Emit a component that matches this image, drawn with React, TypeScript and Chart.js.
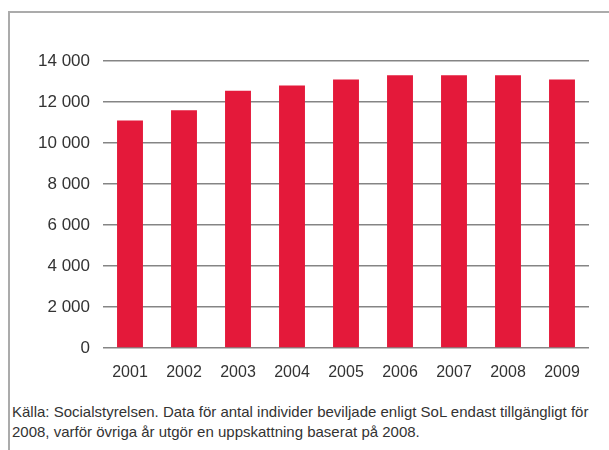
import React, { useEffect, useRef } from "react";
import { Chart, registerables } from "chart.js";

Chart.register(...registerables);

const years = ["2001", "2002", "2003", "2004", "2005", "2006", "2007", "2008", "2009"];
const values = [11100, 11600, 12550, 12800, 13100, 13300, 13300, 13300, 13100];
const yMax = 14000;
const yStep = 2000;
const footnoteLines = [
  "Källa: Socialstyrelsen. Data för antal individer beviljade enligt SoL endast tillgängligt för",
  "2008, varför övriga år utgör en uppskattning baserat på 2008.",
];

const FONT = "'Liberation Sans', Arial, Helvetica, sans-serif";

export default function App() {
  const ref = useRef<HTMLCanvasElement | null>(null);

  useEffect(() => {
    if (!ref.current) return;
    const chart = new Chart(ref.current, {
      type: "bar",
      data: {
        labels: years,
        datasets: [
          {
            data: values,
            backgroundColor: "#E4193A",
            borderWidth: 0,
            categoryPercentage: 1,
            barPercentage: 0.48,
          },
        ],
      },
      options: {
        animation: false,
        responsive: false,
        maintainAspectRatio: false,
        layout: { padding: { top: 61, right: 20, left: 0, bottom: 0 } },
        plugins: { legend: { display: false }, tooltip: { enabled: false } },
        scales: {
          x: {
            grid: { display: false },
            border: { display: false },
            ticks: {
              color: "#333",
              font: { family: FONT, size: 16 },
              padding: 7,
              maxRotation: 0,
            },
            afterFit: (s: any) => {
              s.height = 42;
            },
          },
          y: {
            min: 0,
            max: yMax,
            border: { display: false },
            grid: { color: "#858585", lineWidth: 1.6, drawTicks: false },
            ticks: {
              stepSize: yStep,
              color: "#333",
              font: { family: FONT, size: 17 },
              padding: 13,
              callback: (v: any) => {
                const n = Number(v);
                return n >= 1000 ? `${Math.floor(n / 1000)} ${String(n % 1000).padStart(3, "0")}` : String(n);
              },
            },
            afterFit: (s: any) => {
              s.width = 103;
            },
          },
        },
      },
    });
    return () => chart.destroy();
  }, []);

  return (
    <div style={{ position: "absolute", left: 0, top: 0, width: 609, height: 450, background: "#fff", overflow: "hidden" }}>
      <div
        style={{
          position: "absolute",
          left: 8,
          top: 11,
          width: 620,
          height: 460,
          borderLeft: "2px solid #ababab",
          borderTop: "2px solid #ababab",
        }}
      />
      <canvas ref={ref} width={609} height={390} style={{ position: "absolute", left: 0, top: 0, width: 609, height: 390 }} />
      <div
        style={{
          position: "absolute",
          left: 12,
          top: 402,
          fontFamily: FONT,
          fontSize: 15,
          lineHeight: "20px",
          color: "#333",
          whiteSpace: "nowrap",
        }}
      >
        {footnoteLines.map((l, i) => (
          <div key={i}>{l}</div>
        ))}
      </div>
    </div>
  );
}
